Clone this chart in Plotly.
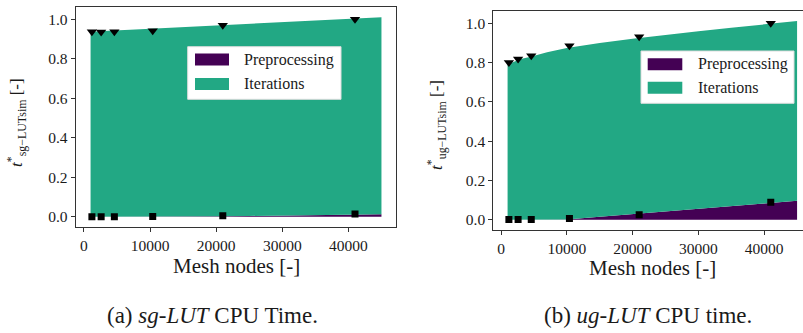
import plotly.graph_objects as go

# ---------------- data ----------------
mesh_nodes = [1200, 2600, 4600, 10400, 21000, 41000]

# measured points (normalised CPU time)
sg_total_pts = [0.937, 0.935, 0.937, 0.942, 0.970, 1.000]
sg_pre_pts = [0.000, 0.000, 0.000, 0.001, 0.005, 0.014]
ug_total_pts = [0.801, 0.818, 0.835, 0.886, 0.931, 1.000]
ug_pre_pts = [0.001, 0.001, 0.001, 0.007, 0.025, 0.089]

# fitted curves (stacked areas)
fit_x = [1000, 2000, 3000, 4500, 7000, 10000, 15000, 20000, 25000, 30000, 35000, 40000, 45000]
sg_total_fit = [0.937, 0.938, 0.940, 0.943, 0.947, 0.952, 0.960, 0.969, 0.977, 0.985, 0.993, 1.002, 1.010]
sg_pre_fit = [0.0, 0.0, 0.0, 0.0, 0.0, 0.0, 0.001, 0.002, 0.004, 0.006, 0.008, 0.010, 0.012]
ug_total_fit = [0.790, 0.806, 0.818, 0.830, 0.852, 0.874, 0.900, 0.921, 0.941, 0.959, 0.977, 0.994, 1.012]
ug_pre_fit = [0.0, 0.0, 0.0, 0.0, 0.0, 0.002, 0.015, 0.028, 0.041, 0.055, 0.069, 0.083, 0.097]

series_names = ["Preprocessing", "Iterations"]
x_ticks = [0, 10000, 20000, 30000, 40000]
y_ticks = [0.0, 0.2, 0.4, 0.6, 0.8, 1.0]
x_title = "Mesh nodes [-]"
y_titles = ["<i>t</i><sup>*</sup><sub>sg\u2212LUTsim</sub> [-]",
            "<i>t</i><sup>*</sup><sub>ug\u2212LUTsim</sub> [-]"]
captions = ["(a) <i>sg-LUT</i> CPU Time.", "(b) <i>ug-LUT</i> CPU time."]

# ---------------- style ----------------
W, H = 803, 333
PURPLE = "#440154"
GREEN = "#22a884"
FONT = "Liberation Serif"
AX = "#333333"
TXT = "#1a1a1a"


def px(x):
    return x / W


def py(y):
    return 1 - y / H


fig = go.Figure()

panels = [
    dict(xa="x", ya="y", pre_fit=sg_pre_fit, tot_fit=sg_total_fit,
         pre_pts=sg_pre_pts, tot_pts=sg_total_pts),
    dict(xa="x2", ya="y2", pre_fit=ug_pre_fit, tot_fit=ug_total_fit,
         pre_pts=ug_pre_pts, tot_pts=ug_total_pts),
]

for i, p in enumerate(panels):
    iter_fit = [t - q for t, q in zip(p["tot_fit"], p["pre_fit"])]
    fig.add_trace(go.Scatter(x=fit_x, y=p["pre_fit"], mode="lines", stackgroup=f"s{i}",
                             line=dict(width=0, color=PURPLE), fillcolor=PURPLE,
                             name=series_names[0], showlegend=False,
                             xaxis=p["xa"], yaxis=p["ya"]))
    fig.add_trace(go.Scatter(x=fit_x, y=iter_fit, mode="lines", stackgroup=f"s{i}",
                             line=dict(width=0, color=GREEN), fillcolor=GREEN,
                             name=series_names[1], showlegend=False,
                             xaxis=p["xa"], yaxis=p["ya"]))
    fig.add_trace(go.Scatter(x=mesh_nodes, y=p["tot_pts"], mode="markers",
                             marker=dict(symbol="triangle-down", size=9, color="black"),
                             showlegend=False, xaxis=p["xa"], yaxis=p["ya"]))
    fig.add_trace(go.Scatter(x=mesh_nodes, y=p["pre_pts"], mode="markers",
                             marker=dict(symbol="square", size=7, color="black"),
                             showlegend=False, xaxis=p["xa"], yaxis=p["ya"]))

axis_common = dict(showgrid=False, zeroline=False, showline=True, linecolor=AX, linewidth=1,
                   ticks="outside", ticklen=4, tickcolor=AX,
                   tickfont=dict(family=FONT, size=15.5, color=TXT))

fig.update_layout(
    width=W, height=H, margin=dict(l=0, r=0, t=0, b=0),
    paper_bgcolor="white", plot_bgcolor="white",
    xaxis=dict(domain=[px(75.7), px(396)], range=[-1250, 47200], tickvals=x_ticks,
               tickformat="d", mirror=True, anchor="y", **axis_common),
    yaxis=dict(domain=[py(227), py(7)], range=[-0.052, 1.062], tickvals=y_ticks,
               tickformat=".1f", mirror=True, anchor="x", **axis_common),
    xaxis2=dict(domain=[px(493.3), 1.0], range=[-1170, 45900], tickvals=x_ticks,
                tickformat="d", mirror=True, anchor="y2", **axis_common),
    yaxis2=dict(domain=[py(230), py(10.7)], range=[-0.052, 1.064], tickvals=y_ticks,
                tickformat=".1f", mirror=False, anchor="x2", **axis_common),
    showlegend=False,
)

shapes = []
annotations = []

# manual legends (matplotlib style)
legends = [
    dict(box=(187.7, 46.7, 341, 99.3), patch_x=(195, 229), rows=(59.5, 84), text_x=242),
    dict(box=(641, 51, 794, 103.3), patch_x=(647.7, 682.3), rows=(64.2, 87.8), text_x=695.7),
]
for lg in legends:
    x0, y0, x1, y1 = lg["box"]
    shapes.append(dict(type="rect", xref="paper", yref="paper", x0=px(x0), x1=px(x1),
                       y0=py(y1), y1=py(y0), fillcolor="white",
                       line=dict(color="#dddddd", width=1), layer="above"))
    for name, col, yc in zip(series_names, [PURPLE, GREEN], lg["rows"]):
        shapes.append(dict(type="rect", xref="paper", yref="paper",
                           x0=px(lg["patch_x"][0]), x1=px(lg["patch_x"][1]),
                           y0=py(yc + 6), y1=py(yc - 6), fillcolor=col,
                           line=dict(width=0), layer="above"))
        annotations.append(dict(text=name, xref="paper", yref="paper", x=px(lg["text_x"]),
                                y=py(yc), xanchor="left", yanchor="middle", showarrow=False,
                                font=dict(family=FONT, size=16, color=TXT)))

# axis titles
for xc, yc in [(236, 266), (652, 268)]:
    annotations.append(dict(text=x_title, xref="paper", yref="paper", x=px(xc), y=py(yc),
                            xanchor="center", yanchor="middle", showarrow=False,
                            font=dict(family=FONT, size=21, color=TXT)))
for t, (xc, yc) in zip(y_titles, [(16, 123), (437, 125)]):
    annotations.append(dict(text=t, xref="paper", yref="paper", x=px(xc), y=py(yc),
                            xanchor="center", yanchor="middle", showarrow=False, textangle=-90,
                            font=dict(family=FONT, size=17, color=TXT)))
# captions
for t, xc in zip(captions, [212, 647.5]):
    annotations.append(dict(text=t, xref="paper", yref="paper", x=px(xc), y=py(315.5),
                            xanchor="center", yanchor="middle", showarrow=False,
                            font=dict(family=FONT, size=23, color=TXT)))

fig.update_layout(shapes=shapes, annotations=annotations)
fig.write_html("out.html")
